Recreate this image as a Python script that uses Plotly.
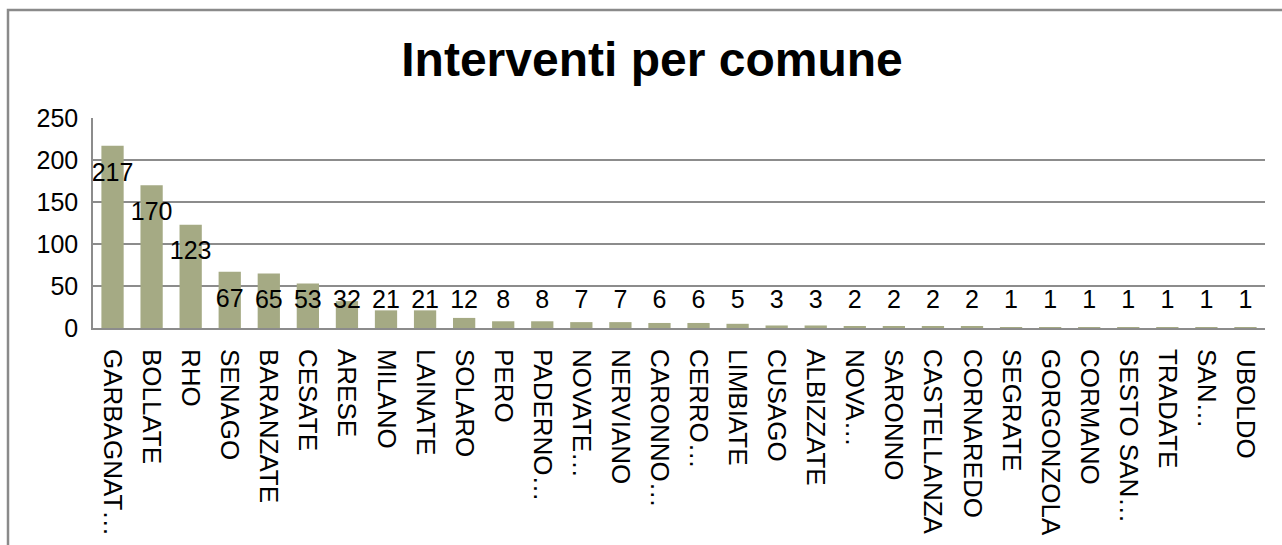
import plotly.graph_objects as go

comuni = ["GARBAGNAT…", "BOLLATE", "RHO", "SENAGO", "BARANZATE", "CESATE", "ARESE",
          "MILANO", "LAINATE", "SOLARO", "PERO", "PADERNO…", "NOVATE…", "NERVIANO",
          "CARONNO…", "CERRO…", "LIMBIATE", "CUSAGO", "ALBIZZATE", "NOVA…", "SARONNO",
          "CASTELLANZA", "CORNAREDO", "SEGRATE", "GORGONZOLA", "CORMANO", "SESTO SAN…",
          "TRADATE", "SAN…", "UBOLDO"]
interventi = [217, 170, 123, 67, 65, 53, 32, 21, 21, 12, 8, 8, 7, 7, 6, 6, 5, 3, 3,
              2, 2, 2, 2, 1, 1, 1, 1, 1, 1, 1]
y_ticks = [0, 50, 100, 150, 200, 250]

FONT = "Liberation Sans, Arial, sans-serif"
BAR = "#A5AA84"
GRID = "#8C8C8C"

# label positions: "inside end", clamped above the axis for short bars
label_y = [max(v - 34, 31) for v in interventi]

fig = go.Figure()
fig.add_trace(go.Bar(x=comuni, y=interventi, marker=dict(color=BAR, line=dict(width=0)),
                     hoverinfo="x+y"))
fig.add_trace(go.Scatter(x=comuni, y=label_y, mode="text", text=[str(v) for v in interventi],
                         textposition="middle center", cliponaxis=False,
                         textfont=dict(family=FONT, size=25, color="#000000"),
                         hoverinfo="skip"))

fig.update_layout(
    width=1282, height=545,
    margin=dict(l=93, r=17, t=118, b=217, autoexpand=False),
    paper_bgcolor="white", plot_bgcolor="white",
    showlegend=False,
    bargap=0.43,
    title=dict(text="<b>Interventi per comune</b>", x=652/1282, xref="container",
               xanchor="center", y=1 - 59/545, yref="container", yanchor="middle",
               font=dict(family=FONT, size=48, color="#000000")),
    font=dict(family=FONT, color="#000000"),
)
fig.update_yaxes(range=[0, 250], tickvals=y_ticks, showgrid=True, gridcolor=GRID, gridwidth=1.5,
                 showline=True, linecolor=GRID, linewidth=1.5, ticks="", automargin=False,
                 tickfont=dict(family=FONT, size=25, color="#000000"), ticklabelstandoff=8,
                 zeroline=False)
fig.update_xaxes(range=[-0.5, len(comuni) - 0.5], showline=True, linecolor=GRID, linewidth=1.5,
                 ticks="", tickangle=90, automargin=False,
                 tickfont=dict(family=FONT, size=26, color="#000000"), ticklabelstandoff=14,
                 showgrid=False)

# chart frame (extends beyond the visible area on right and bottom)
fig.add_shape(type="rect", xref="paper", yref="paper",
              x0=(8 - 93) / 1172, x1=(1300 - 93) / 1172,
              y0=(328 - 560) / 210, y1=(328 - 10) / 210,
              line=dict(color="#8A8A8A", width=2.5), fillcolor="rgba(0,0,0,0)", layer="below")

fig.write_html("out.html", config={"displayModeBar": False},
               post_script="document.body.style.margin='0';")
